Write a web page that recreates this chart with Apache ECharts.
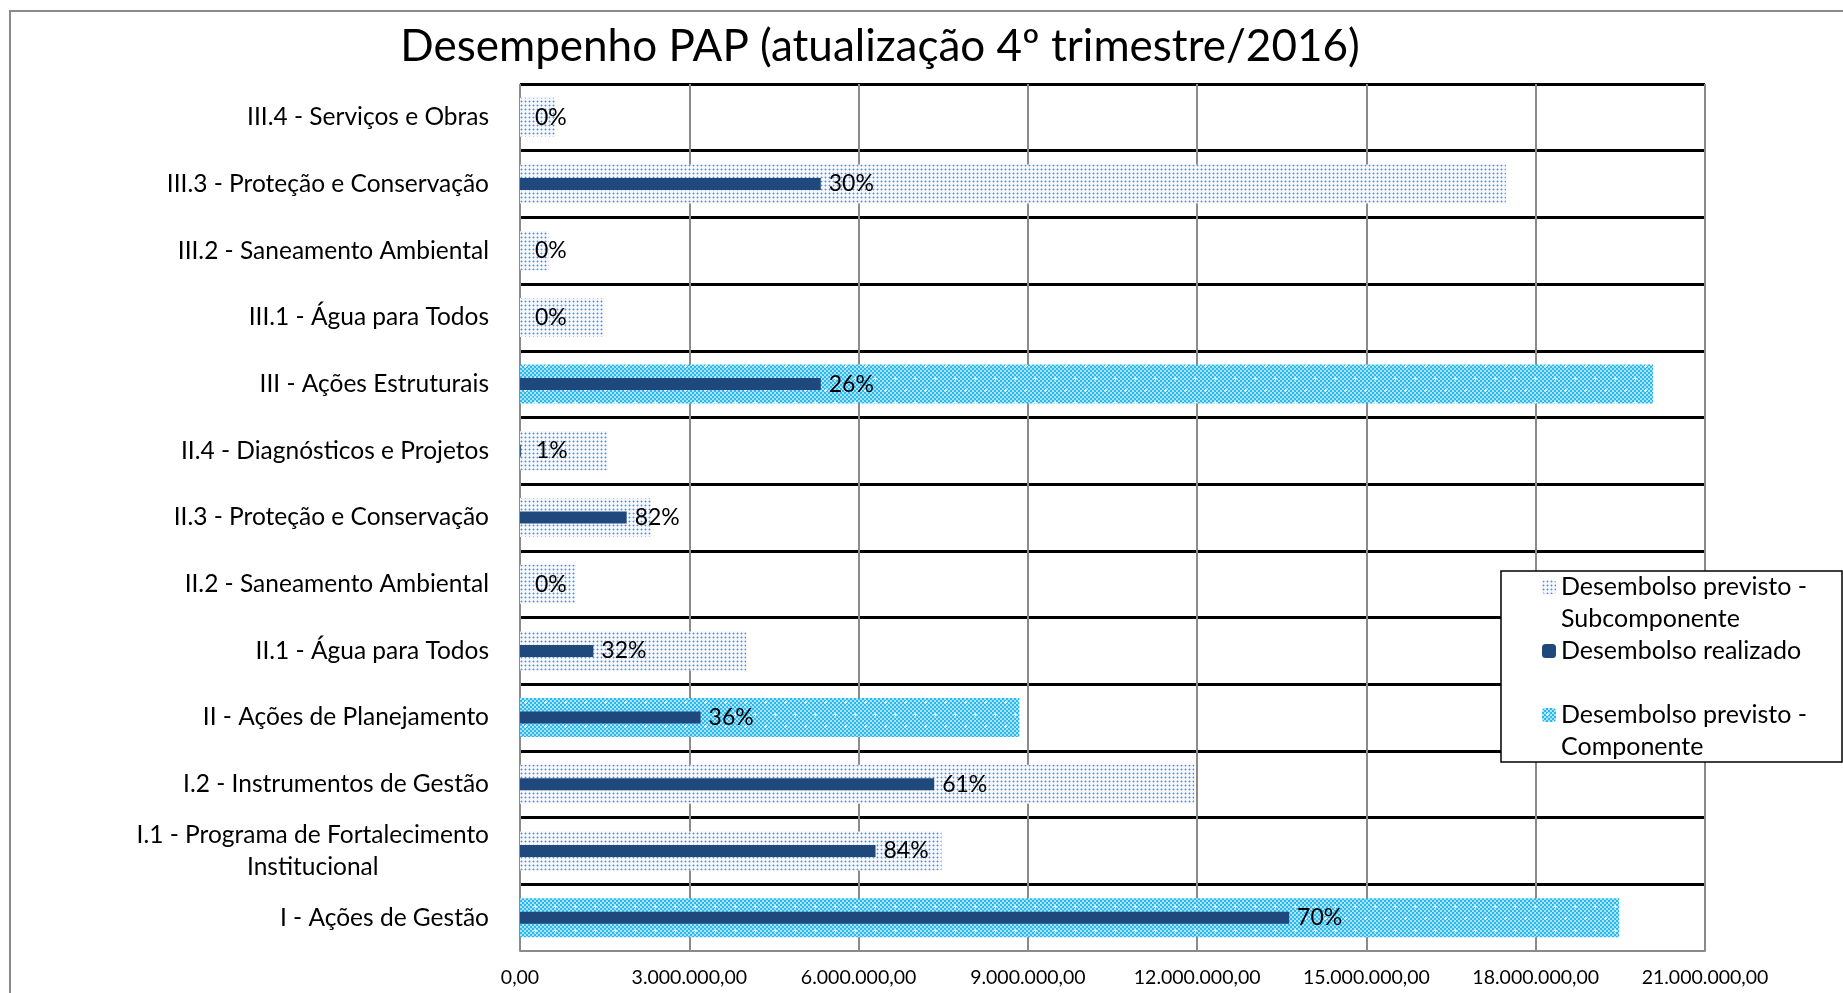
<!DOCTYPE html>
<html>
<head>
<meta charset="utf-8">
<title>Desempenho PAP</title>
<script src="https://cdn.jsdelivr.net/npm/echarts@6/dist/echarts.min.js"></script>
<style>
  html, body { margin: 0; padding: 0; background: #fff; }
  #chart { width: 1843px; height: 993px; }
</style>
</head>
<body>
<div id="chart"></div>
<script>
// categorias de cima para baixo
const categorias = [
  'III.4 - Serviços e Obras',
  'III.3 - Proteção e Conservação',
  'III.2 - Saneamento Ambiental',
  'III.1 - Água para Todos',
  'III - Ações Estruturais',
  'II.4 - Diagnósticos e Projetos',
  'II.3 - Proteção e Conservação',
  'II.2 - Saneamento Ambiental',
  'II.1 - Água para Todos',
  'II - Ações de Planejamento',
  'I.2 - Instrumentos de Gestão',
  'I.1 - Programa de Fortalecimento Institucional',
  'I - Ações de Gestão'
];
const previstoSub = [620000, 17470000, 510000, 1490000, '-', 1560000, 2320000, 990000, 4010000, '-', 11950000, 7470000, '-'];
const previstoComp = ['-', '-', '-', '-', 20080000, '-', '-', '-', '-', 8850000, '-', '-', 19480000];
const realizado = [0, 5330000, 0, 0, 5330000, 16000, 1890000, 0, 1300000, 3200000, 7340000, 6300000, 13630000];
const percentuais = ['0%', '30%', '0%', '0%', '26%', '1%', '82%', '0%', '32%', '36%', '61%', '84%', '70%'];
const xTicks = [0, 3000000, 6000000, 9000000, 12000000, 15000000, 18000000, 21000000];
const xTickLabels = ['0,00', '3.000.000,00', '6.000.000,00', '9.000.000,00', '12.000.000,00', '15.000.000,00', '18.000.000,00', '21.000.000,00'];

const FONTE = 'Lato';
const chart = echarts.init(document.getElementById('chart'));

// textura pontilhada do subcomponente
function padraoSub() {
  const c = document.createElement('canvas');
  c.width = 4; c.height = 4;
  const ctx = c.getContext('2d');
  ctx.fillStyle = '#f4f7fc';
  ctx.fillRect(0, 0, 4, 4);
  ctx.fillStyle = '#b3cbec';
  ctx.fillRect(0, 1, 3, 1);
  ctx.fillRect(1, 0, 1, 3);
  ctx.fillStyle = '#5a8bd0';
  ctx.fillRect(1, 1, 1, 1);
  return c;
}

// textura xadrez ciano do componente
function padraoComp() {
  const c = document.createElement('canvas');
  c.width = 20; c.height = 24;
  const ctx = c.getContext('2d');
  for (let y = 0; y < 24; y += 2) {
    for (let x = 0; x < 20; x += 2) {
      ctx.fillStyle = ((x + y) / 2) % 2 ? '#a9e4fb' : '#2ab8ee';
      ctx.fillRect(x, y, 2, 2);
    }
  }
  ctx.fillStyle = '#ffffff';
  [[5, 6], [15, 18]].forEach(([x, y]) => {
    ctx.fillRect(x - 1, y, 3, 1);
    ctx.fillRect(x, y - 1, 1, 3);
  });
  return c;
}

function quebraRotulo(valor) {
  if (valor.length <= 34) return valor;
  const i = valor.lastIndexOf(' ');
  return valor.slice(0, i) + '\n{c|' + valor.slice(i + 1) + '}';
}

// rótulos de valores quase nulos ficam um pouco mais afastados do eixo
const realizadoDados = realizado.map((v) => (v < 100000 ? { value: v, label: { distance: 15 } } : v));

const option = {
  animation: false,
  grid: { left: 520, top: 84, width: 1185, height: 867 },
  legend: {
    orient: 'vertical',
    left: 1542,
    top: 539,
    padding: 0,
    itemGap: -32,
    itemWidth: 14,
    itemHeight: 14,
    selectedMode: false,
    data: ['Desembolso previsto - Subcomponente', 'Desembolso realizado', 'Desembolso previsto - Componente'],
    formatter: (nome) => nome.indexOf(' - ') > 0 ? ' \n' + nome.replace(' - ', ' -\n') : ' \n' + nome + '\n ',
    textStyle: { fontFamily: FONTE, fontSize: 25, lineHeight: 32, color: '#000' }
  },
  xAxis: {
    type: 'value',
    min: 0,
    max: 21000000,
    interval: 3000000,
    axisLine: { show: true, lineStyle: { color: '#8a8a8a', width: 2 } },
    axisTick: { show: false },
    axisLabel: {
      margin: 17,
      fontFamily: FONTE,
      fontSize: 19.5,
      color: '#000',
      formatter: (v) => xTickLabels[xTicks.indexOf(v)]
    },
    splitLine: { show: true, lineStyle: { color: '#8a8a8a', width: 2 } }
  },
  yAxis: [
    {
      type: 'category',
      data: categorias,
      inverse: true,
      axisLine: { show: false },
      axisTick: { show: false },
      axisLabel: {
        interval: 0,
        margin: 31,
        fontFamily: FONTE,
        fontSize: 24.5,
        lineHeight: 32,
        color: '#000',
        formatter: quebraRotulo,
        rich: {
          c: { align: 'center', fontFamily: FONTE, fontSize: 24.5, lineHeight: 32, color: '#000' }
        }
      },
      splitLine: { show: true, showMaxLine: false, lineStyle: { color: '#000', width: 3 } }
    },
    {
      type: 'category',
      data: categorias,
      inverse: true,
      show: false
    }
  ],
  series: [
    {
      name: 'Desembolso previsto - Subcomponente',
      type: 'bar',
      barWidth: 39,
      barGap: '-100%',
      data: previstoSub,
      itemStyle: { color: { image: padraoSub(), repeat: 'repeat' } }
    },
    {
      name: 'Desembolso previsto - Componente',
      type: 'bar',
      barWidth: 39,
      barGap: '-100%',
      data: previstoComp,
      itemStyle: { color: { image: padraoComp(), repeat: 'repeat' } }
    },
    {
      name: 'Desembolso realizado',
      type: 'bar',
      yAxisIndex: 1,
      barWidth: 12,
      data: realizadoDados,
      z: 3,
      itemStyle: { color: '#1f497d' },
      label: {
        show: true,
        position: 'right',
        distance: 8,
        fontFamily: FONTE,
        fontSize: 23,
        color: '#000',
        formatter: (p) => percentuais[p.dataIndex]
      }
    }
  ],
  graphic: [
    {
      type: 'rect',
      z: -1,
      shape: { x: 10, y: 11, width: 1900, height: 1100 },
      style: { fill: 'none', stroke: '#8a8a8a', lineWidth: 2 }
    },
    {
      type: 'text',
      x: 880,
      y: 47,
      style: {
        text: 'Desempenho PAP (atualização 4º trimestre/2016)',
        fontFamily: FONTE,
        fontSize: 44,
        fill: '#000',
        align: 'center',
        verticalAlign: 'middle'
      }
    },
    {
      type: 'rect',
      z: 3,
      shape: { x: 1501, y: 571, width: 341, height: 191 },
      style: { fill: '#fff', stroke: '#000', lineWidth: 1.5 }
    }
  ]
};

chart.setOption(option);
</script>
</body>
</html>
